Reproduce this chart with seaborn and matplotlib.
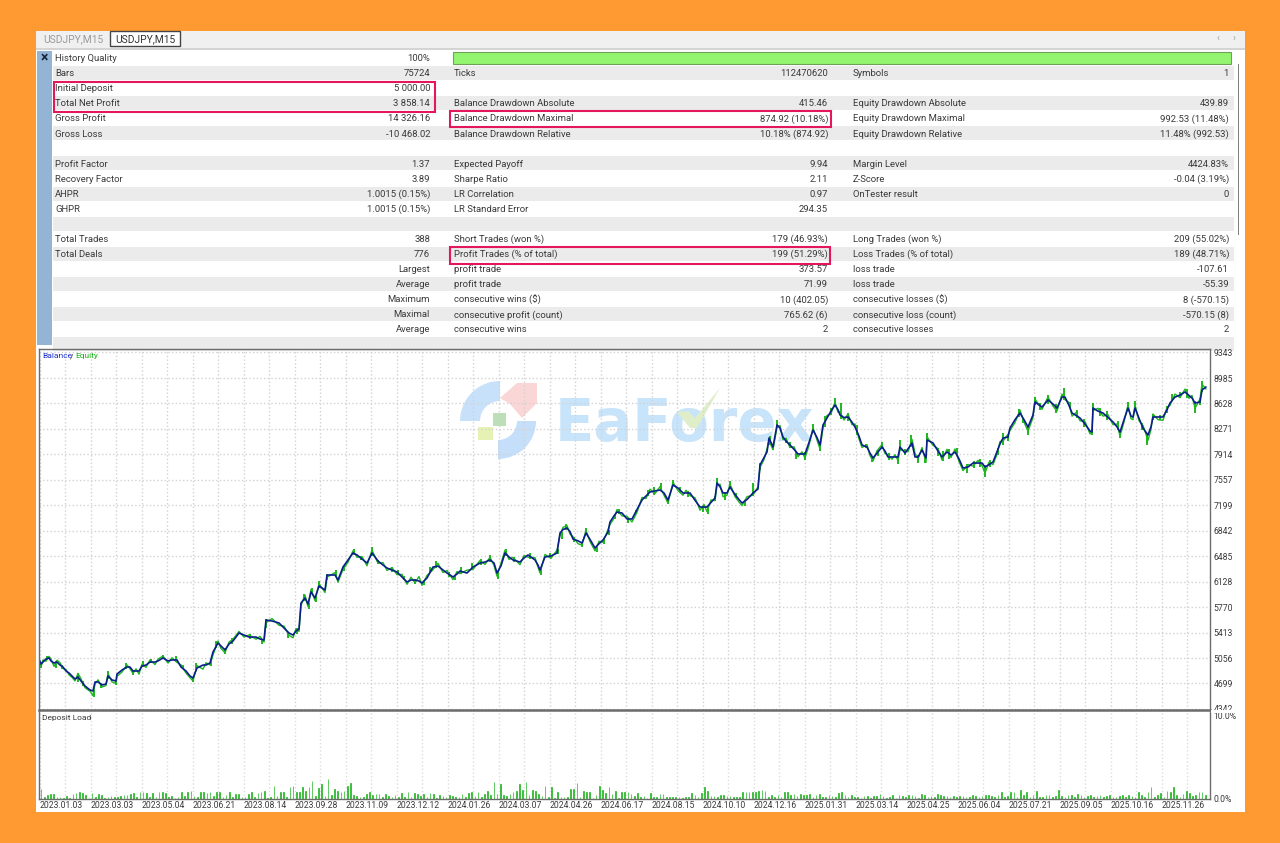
import numpy as np
import pandas as pd
import matplotlib
matplotlib.use("Agg")
import matplotlib.pyplot as plt
from matplotlib.patches import Rectangle, Wedge, Polygon
import seaborn as sns

# report table
col1_labels = ["History Quality", "Bars", "Initial Deposit", "Total Net Profit", "Gross Profit", "Gross Loss", "",
               "Profit Factor", "Recovery Factor", "AHPR", "GHPR", "", "Total Trades", "Total Deals",
               "", "", "", "", ""]
col1_values = ["100%", "75724", "5 000.00", "3 858.14", "14 326.16", "-10 468.02", "",
               "1.37", "3.89", "1.0015 (0.15%)", "1.0015 (0.15%)", "", "388", "776",
               "Largest", "Average", "Maximum", "Maximal", "Average"]
col2_labels = ["", "Ticks", "", "Balance Drawdown Absolute", "Balance Drawdown Maximal", "Balance Drawdown Relative", "",
               "Expected Payoff", "Sharpe Ratio", "LR Correlation", "LR Standard Error", "",
               "Short Trades (won %)", "Profit Trades (% of total)", "profit trade", "profit trade",
               "consecutive wins ($)", "consecutive profit (count)", "consecutive wins"]
col2_values = ["", "112470620", "", "415.46", "874.92 (10.18%)", "10.18% (874.92)", "",
               "9.94", "2.11", "0.97", "294.35", "",
               "179 (46.93%)", "199 (51.29%)", "373.57", "71.99", "10 (402.05)", "765.62 (6)", "2"]
col3_labels = ["", "Symbols", "", "Equity Drawdown Absolute", "Equity Drawdown Maximal", "Equity Drawdown Relative", "",
               "Margin Level", "Z-Score", "OnTester result", "", "",
               "Long Trades (won %)", "Loss Trades (% of total)", "loss trade", "loss trade",
               "consecutive losses ($)", "consecutive loss (count)", "consecutive losses"]
col3_values = ["", "1", "", "439.89", "992.53 (11.48%)", "11.48% (992.53)", "",
               "4424.83%", "-0.04 (3.19%)", "0", "", "",
               "209 (55.02%)", "189 (48.71%)", "-107.61", "-55.39", "8 (-570.15)", "-570.15 (8)", "2"]

# balance curve
curve_step = [
    40, 41, 43, 46, 49, 51, 54, 57, 60, 63, 66, 69, 72, 75, 78, 81, 85, 90, 93, 95,
    98, 102, 106, 108, 112, 116, 117, 122, 127, 130, 133, 136, 139, 142, 146, 150, 155, 158, 163, 168,
    172, 177, 181, 186, 190, 193, 197, 203, 206, 210, 213, 218, 221, 225, 229, 233, 239, 244, 249, 256,
    260, 264, 266, 272, 279, 284, 289, 293, 296, 299, 301, 305, 308, 311, 315, 319, 325, 327, 335, 338,
    343, 348, 353, 357, 362, 367, 372, 378, 383, 387, 392, 397, 402, 407, 411, 415, 419, 422, 427, 433,
    438, 443, 447, 453, 457, 460, 467, 473, 480, 485, 490, 494, 497, 501, 505, 509, 513, 520, 524, 528,
    535, 538, 540, 545, 551, 557, 560, 563, 567, 570, 573, 578, 582, 586, 590, 595, 599, 603, 608, 610,
    614, 617, 622, 627, 632, 637, 642, 646, 650, 655, 660, 664, 668, 673, 678, 683, 686, 690, 695, 700,
    704, 707, 711, 715, 717, 720, 723, 727, 730, 735, 739, 742, 747, 753, 758, 760, 764, 767, 769, 773,
    777, 780, 783, 786, 790, 794, 798, 802, 805, 809, 813, 817, 820, 823, 827, 831, 835, 838, 840, 844,
    848, 852, 855, 859, 862, 867, 870, 873, 877, 882, 885, 888, 892, 895, 898, 900, 905, 908, 912, 915,
    918, 922, 926, 927, 933, 938, 942, 947, 951, 955, 959, 963, 968, 973, 978, 982, 985, 989, 993, 997,
    1000, 1003, 1008, 1010, 1015, 1020, 1024, 1028, 1033, 1035, 1042, 1048, 1053, 1057, 1062, 1065, 1069, 1072, 1076, 1080,
    1085, 1090, 1092, 1093, 1098, 1103, 1108, 1113, 1117, 1120, 1124, 1128, 1131, 1133, 1135, 1139, 1143, 1148, 1151, 1153,
    1158, 1163, 1167, 1170, 1175, 1180, 1185, 1189, 1192, 1195, 1200, 1202, 1206,
]
balance = [
    5015, 4972, 5000, 5043, 5057, 5015, 4986, 5000, 4958, 4930, 4874, 4846, 4804, 4762, 4790, 4734, 4664, 4608, 4594, 4720,
    4720, 4678, 4692, 4804, 4748, 4734, 4832, 4888, 4930, 4930, 4874, 4874, 4874, 4944, 4958, 5000, 5000, 5015, 5057, 5015,
    5029, 5029, 4930, 4874, 4804, 4776, 4916, 4958, 4958, 4986, 5141, 5267, 5225, 5169, 5253, 5295, 5407, 5379, 5351, 5351,
    5323, 5309, 5590, 5576, 5548, 5477, 5407, 5379, 5435, 5463, 5828, 5898, 5814, 5983, 5898, 6067, 6011, 6221, 6221, 6151,
    6333, 6432, 6530, 6502, 6446, 6389, 6530, 6418, 6361, 6319, 6291, 6263, 6193, 6123, 6151, 6151, 6137, 6109, 6179, 6333,
    6347, 6291, 6249, 6193, 6235, 6277, 6249, 6333, 6389, 6403, 6432, 6390, 6249, 6350, 6530, 6474, 6432, 6403, 6460, 6502,
    6432, 6360, 6291, 6474, 6488, 6530, 6810, 6860, 6880, 6830, 6726, 6700, 6670, 6810, 6720, 6600, 6660, 6712, 6824, 6965,
    7050, 7105, 7091, 7007, 7007, 7140, 7273, 7330, 7386, 7400, 7414, 7372, 7273, 7484, 7442, 7372, 7372, 7372, 7270, 7175,
    7175, 7175, 7240, 7301, 7512, 7460, 7372, 7372, 7456, 7350, 7280, 7231, 7280, 7372, 7428, 7764, 7870, 7947, 8143, 8017,
    8326, 8283, 8157, 8100, 8045, 7985, 7919, 7919, 7919, 8080, 8255, 8150, 8045, 8326, 8424, 8520, 8606, 8540, 8466, 8430,
    8438, 8365, 8298, 8170, 8045, 8017, 7930, 7863, 7930, 8017, 7960, 7877, 7877, 7877, 7877, 8017, 7933, 7990, 8073, 7877,
    7877, 7975, 7863, 8115, 8073, 7960, 7877, 7947, 7905, 7947, 7850, 7722, 7736, 7792, 7792, 7792, 7736, 7770, 7806, 7950,
    8060, 8143, 8157, 8283, 8400, 8494, 8400, 8298, 8466, 8648, 8578, 8676, 8620, 8564, 8718, 8718, 8600, 8494, 8460, 8424,
    8340, 8241, 8227, 8564, 8520, 8494, 8430, 8368, 8300, 8227, 8400, 8564, 8450, 8438, 8564, 8420, 8283, 8185, 8300, 8438,
    8438, 8438, 8540, 8634, 8718, 8745, 8789, 8740, 8704, 8634, 8648, 8817, 8859,
]
equity = [
    4960, 4930, 5030, 5010, 5080, 5040, 4940, 5025, 4990, 4910, 4895, 4820, 4785, 4735, 4840, 4765, 4640, 4590, 4530, 4690,
    4750, 4650, 4670, 4840, 4720, 4700, 4800, 4860, 4960, 4905, 4840, 4905, 4830, 4970, 4925, 5030, 4965, 5040, 5085, 4985,
    5060, 4995, 4960, 4845, 4780, 4735, 4950, 4900, 4990, 4960, 5100, 5295, 5190, 5130, 5280, 5320, 5430, 5350, 5380, 5320,
    5360, 5280, 5550, 5610, 5515, 5505, 5375, 5340, 5470, 5430, 5790, 5940, 5775, 6020, 5860, 6100, 5975, 6190, 6255, 6120,
    6300, 6400, 6560, 6470, 6480, 6350, 6570, 6385, 6395, 6285, 6325, 6225, 6230, 6090, 6190, 6110, 6200, 6075, 6215, 6295,
    6385, 6255, 6285, 6155, 6270, 6240, 6290, 6300, 6425, 6370, 6470, 6355, 6205, 6385, 6570, 6440, 6470, 6365, 6495, 6470,
    6465, 6330, 6250, 6510, 6455, 6570, 6775, 6890, 6915, 6795, 6760, 6660, 6640, 6850, 6690, 6560, 6695, 6680, 6860, 6930,
    7015, 7140, 7050, 7045, 6965, 7100, 7310, 7295, 7425, 7365, 7460, 7340, 7230, 7520, 7405, 7340, 7410, 7335, 7305, 7130,
    7210, 7110, 7275, 7265, 7480, 7495, 7320, 7340, 7500, 7320, 7245, 7195, 7320, 7340, 7460, 7730, 7840, 7990, 8100, 7980,
    8290, 8320, 8120, 8140, 8010, 8020, 7880, 7950, 7860, 8040, 8290, 8115, 7990, 8285, 8460, 8485, 8650, 8505, 8510, 8395,
    8480, 8330, 8340, 8130, 8010, 8050, 7895, 7820, 7965, 8050, 7925, 7910, 7845, 7910, 7825, 7980, 7965, 7950, 8125, 7930,
    7845, 8010, 7800, 8160, 8040, 7995, 7835, 7985, 7870, 7990, 7815, 7685, 7770, 7750, 7830, 7755, 7650, 7805, 7770, 7915,
    8095, 8100, 8195, 8250, 8360, 8535, 8365, 8240, 8430, 8690, 8545, 8720, 8590, 8520, 8760, 8680, 8640, 8450, 8500, 8385,
    8375, 8200, 8260, 8530, 8560, 8450, 8470, 8330, 8340, 8170, 8370, 8610, 8415, 8400, 8610, 8385, 8320, 8110, 8265, 8480,
    8400, 8390, 8575, 8600, 8760, 8710, 8830, 8700, 8740, 8560, 8690, 8900, 8830,
]

# green equity spikes that stick out of the balance line
spike_step = [
    41, 47, 56, 62, 78, 83, 94, 101, 108, 116, 126, 133, 143, 151, 163, 176, 183, 193, 196, 211,
    216, 225, 232, 250, 262, 266, 288, 297, 304, 309, 312, 316, 319, 327, 336, 344, 354, 361, 372, 378,
    392, 398, 404, 415, 424, 430, 436, 449, 455, 461, 472, 481, 490, 498, 506, 514, 530, 541, 550, 558,
    562, 566, 574, 582, 586, 597, 604, 609, 615, 619, 628, 636, 648, 654, 661, 668, 673, 680, 688, 703,
    708, 715, 717, 725, 730, 736, 745, 753, 760, 770, 773, 777, 786, 790, 796, 805, 813, 820, 825, 831,
    835, 841, 848, 857, 866, 872, 878, 882, 889, 898, 900, 905, 911, 918, 925, 927, 938, 943, 949, 957,
    967, 974, 980, 985, 990, 998, 1003, 1008, 1019, 1023, 1028, 1035, 1040, 1048, 1056, 1064, 1070, 1077, 1084, 1092,
    1093, 1100, 1107, 1118, 1120, 1128, 1135, 1142, 1147, 1153, 1160, 1167, 1172, 1180, 1187, 1195, 1200, 1202,
]
spike_low = [
    4910, 5030, 4920, 4900, 4720, 4660, 4510, 4640, 4760, 4680, 4900, 4820, 4930, 4980, 5040, 5000, 4900, 4720, 4880, 4950,
    5190, 5110, 5260, 5320, 5260, 5480, 5340, 5400, 5860, 5750, 5950, 5840, 6040, 6150, 6200, 6280, 6500, 6430, 6490, 6370,
    6260, 6220, 6150, 6100, 6080, 6250, 6320, 6200, 6150, 6240, 6300, 6360, 6400, 6170, 6490, 6400, 6440, 6220, 6460, 6510,
    6720, 6850, 6690, 6620, 6790, 6540, 6660, 6780, 7000, 7080, 6950, 7070, 7330, 7350, 7400, 7220, 7470, 7370, 7310, 7110,
    7080, 7260, 7480, 7280, 7430, 7300, 7190, 7330, 7700, 8040, 7970, 8290, 8070, 8000, 7850, 7830, 8230, 7960, 8300, 8460,
    8580, 8410, 8380, 8190, 8000, 7800, 7890, 7990, 7830, 7780, 7970, 7900, 8020, 7790, 7790, 8090, 7890, 7820, 7850, 7900,
    7650, 7720, 7740, 7590, 7730, 7900, 8050, 8100, 8440, 8350, 8180, 8600, 8530, 8620, 8500, 8680, 8560, 8430, 8300, 8180,
    8530, 8450, 8400, 8260, 8150, 8530, 8530, 8250, 8050, 8400, 8390, 8500, 8660, 8700, 8700, 8500, 8600, 8790,
]
spike_high = [
    4985, 5085, 5010, 4960, 4850, 4730, 4610, 4710, 4870, 4750, 4980, 4890, 5010, 5040, 5100, 5080, 4960, 4790, 4990, 5040,
    5290, 5190, 5340, 5400, 5330, 5600, 5420, 5480, 5960, 5830, 6040, 5920, 6130, 6240, 6290, 6350, 6580, 6490, 6610, 6430,
    6330, 6290, 6210, 6170, 6140, 6330, 6420, 6270, 6210, 6330, 6390, 6450, 6500, 6260, 6590, 6470, 6530, 6300, 6530, 6590,
    6820, 6930, 6750, 6690, 6880, 6610, 6730, 6850, 7080, 7150, 7030, 7140, 7420, 7450, 7510, 7290, 7560, 7460, 7400, 7190,
    7190, 7330, 7580, 7380, 7540, 7370, 7260, 7510, 7790, 8170, 8040, 8390, 8150, 8090, 7960, 7940, 8340, 8060, 8450, 8570,
    8700, 8640, 8500, 8320, 8060, 7880, 7980, 8090, 7930, 7890, 8110, 7990, 8190, 7900, 7900, 8210, 8000, 7960, 7990, 8000,
    7780, 7820, 7850, 7760, 7830, 8000, 8220, 8190, 8550, 8420, 8310, 8720, 8640, 8740, 8620, 8840, 8650, 8530, 8410, 8270,
    8630, 8560, 8520, 8380, 8250, 8650, 8660, 8350, 8220, 8480, 8470, 8590, 8760, 8790, 8830, 8660, 8700, 8950,
]

# deposit load in %, one row per date label
deposit_load = [
    1.2, .3, .5, .6, .6, .3, .3, .1, .4, .1, .6, .7, .8, .7, .5, .1,
    .7, .2, .6, .5, .1, .3, .4, .3, .3, .4, .5, .5, .6, .7, .3, .8,
    .9, .7, .3, .7, .2, .8, .9, .7, .3, .4, .1, .3, .9, .4, .8, 1.0,
    .4, .2, .8, .8, .7, .9, .4, .8, .9, .3, .5, .9, .3, .6, .6, .2,
    .3, .6, .9, .3, .7, .9, 1.0, .1, .3, 1.6, .4, .8, .9, .3, 1.5, 1.6,
    .9, .8, 1.4, 1.0, 1.4, 2.2, .4, 1.3, 1.8, .4, 2.4, .5, 1.2, 1.0, .8, 1.0,
    1.6, 1.9, .5, .4, .2, .2, .6, .8, .5, .6, .6, .3, .6, .4, .3, .5,
    .3, .7, .3, .8, .2, .7, .6, .4, .6, .3, .7, .6, .1, .5, .4, .3,
    .5, .4, .3, .3, .6, .3, .7, .9, .4, .9, .3, .6, 1.0, .5, 2.0, .6,
    1.8, .5, .4, .6, .9, 1.0, 1.8, 1.1, 2.1, .5, 1.1, 1.0, .6, .4, 1.6, .3,
    1.5, .1, .9, .3, .2, .3, 1.2, 1.2, 1.9, .3, 1.0, .9, .9, .1, .5, 1.6,
    1.1, .7, 1.5, .6, 1.0, .1, .9, .9, .9, .6, .4, .7, .3, .4, .1, .7,
    .2, .2, .6, .6, .2, .3, .3, .3, .3, .1, .3, .2, .7, .5, .2, .7,
    1.5, 1.0, .4, .4, .2, .5, .5, .4, .4, .3, .3, .2, .8, .8, .8, .8,
    .9, 1.0, 1.1, 1.0, .3, .5, .3, .5, .3, .9, .8, .5, .6, .4, .6, .5,
    .5, .6, .3, .5, .6, .3, .2, .5, .4, .3, .7, .8, .5, .3, .5, .2,
    .2, .1, .4, .4, .1, .4, .4, .6, .4, .1, .3, .5, .1, .5, .4, .2,
    .5, .5, .4, .1, .6, .5, .3, .4, .3, .6, .5, .4, .4, .3, .4, .2,
    .4, .4, .3, .2, .5, .4, .2, .4, .5, .5, .4, .2, .5, .8, .2, .4,
    .9, .8, .3, 1.1, .5, .9, .3, .5, 1.0, .3, .2, .5, .5, .2, .4, 1.1,
    .4, .3, .5, .5, .3, .6, .5, .3, .4, .5, .2, .4, .5, .3, .4, .5,
    .3, .2, .4, .5, .3, .5, .4, .2, .8, .5, .2, .8, 1.4, .3, .5, .7,
    .3, 1.0, .9, 1.5, .5, .3, .6, 1.0, .7, .4, .5, .9, .9, .5,
]

date_labels = ["2023.01.03", "2023.03.03", "2023.05.04", "2023.06.21", "2023.08.14", "2023.09.28",
               "2023.11.09", "2023.12.12", "2024.01.26", "2024.03.07", "2024.04.26", "2024.06.17",
               "2024.08.15", "2024.10.10", "2024.12.16", "2025.01.31", "2025.03.14", "2025.04.25",
               "2025.06.04", "2025.07.21", "2025.09.05", "2025.10.16", "2025.11.26"]
balance_ticks = [9343, 8985, 8628, 8271, 7914, 7557, 7199, 6842, 6485, 6128, 5770, 5413, 5056, 4699, 4342]

W, H = 1280, 843
ORANGE = "#ff9a33"
TEXT = "#3a3a3a"
FRAME = "#6b6b6b"
BLUE = "#0b1f8a"
GREEN = "#1fb51f"
RED = "#e2185a"

sns.set_theme(style="white")
plt.rcParams["font.family"] = ["Roboto", "DejaVu Sans"]

fig = plt.figure(figsize=(W / 100, H / 100), dpi=100, facecolor=ORANGE)


def px_axes(left, top, right, bottom, zorder):
    return fig.add_axes([left / W, 1 - bottom / H, (right - left) / W, (bottom - top) / H], zorder=zorder)


# ----------------------------------------------------
# REPORT PANEL (drawn in pixel coordinates)
# ----------------------------------------------------
bg = px_axes(0, 0, W, H, 0)
bg.set_xlim(0, W)
bg.set_ylim(H, 0)
bg.axis("off")

bg.add_patch(Rectangle((36, 31), 1209, 781, fc="white", ec="none"))
bg.add_patch(Rectangle((36, 31), 1209, 19, fc="#f0f0f0", ec="none"))
bg.add_patch(Rectangle((36, 48), 1209, 2, fc="#d4d4d4", ec="none"))
bg.add_patch(Rectangle((110, 31), 70, 15, fc="white", ec="#444444", lw=1))
bg.text(73, 39, "USDJPY,M15", fontsize=7.4, color="#9a9a9a", ha="center", va="center")
bg.text(145, 39, "USDJPY,M15", fontsize=7.4, color="#333333", ha="center", va="center")
bg.text(1218, 38.5, "‹", fontsize=7, color="#a0a0a0", ha="center", va="center")
bg.text(1234, 38.5, "›", fontsize=7, color="#a0a0a0", ha="center", va="center")

bg.add_patch(Rectangle((37, 51), 15, 294, fc="#93b4d4", ec="none"))
bg.text(44, 58, "×", fontsize=10, fontweight="bold", color="#16243a", ha="center", va="center")
bg.add_patch(Rectangle((1237.5, 64), 1.5, 171, fc="#7f7f7f", ec="none"))

row_h = 15.07
for i in range(20):
    if i % 2 == 1:
        bg.add_patch(Rectangle((53, 51 + row_h * i), 1181, row_h - 1.2, fc="#ebebeb", ec="none"))

bg.add_patch(Rectangle((453, 52), 778, 12, fc="#93f56f", ec="#6fa05a", lw=0.8))

columns = [(55, 430, col1_labels, col1_values), (454, 828, col2_labels, col2_values),
           (853, 1229, col3_labels, col3_values)]
for x_label, x_value, labels, values in columns:
    for i, (label, value) in enumerate(zip(labels, values)):
        y = 58.7 + row_h * i
        bg.text(x_label, y, label, fontsize=6.8, color=TEXT, ha="left", va="center")
        bg.text(x_value, y, value, fontsize=6.8, color=TEXT, ha="right", va="center")

for x, y, w, h in [(53.5, 82, 381.5, 30), (449.5, 110.5, 381, 16.5), (449.5, 247, 380.5, 17)]:
    bg.add_patch(Rectangle((x, y), w, h, fc="none", ec=RED, lw=1.5, zorder=5))

# watermark, sits under the chart
bg.add_patch(Wedge((500, 421), 40, 180, 270, width=20, fc="#c8e1fa", ec="none"))
bg.add_patch(Wedge((498, 421), 38, 0, 90, width=19, fc="#c5dffa", ec="none"))
bg.add_patch(Polygon([(500, 398), (517, 383), (537, 383), (537, 403), (522, 418), (510, 404)], fc="#fbd6d6", ec="none"))
bg.add_patch(Rectangle((493, 413), 13, 13, fc="#bcdfb8", ec="none"))
bg.add_patch(Rectangle((478, 427), 15, 13, fc="#e6f2b4", ec="none"))
bg.text(555, 424, "EaForex", fontsize=41.5, fontweight="bold", family="DejaVu Sans", color="#c8e4fb",
        ha="left", va="center")
bg.add_patch(Polygon([(677, 412), (688, 411), (695, 418), (720, 388), (697, 428), (690, 428)], fc="#dfeec8", ec="none", zorder=3))

# ----------------------------------------------------
# BALANCE / EQUITY
# ----------------------------------------------------
df_curve = pd.DataFrame({"step": curve_step, "Balance": balance, "Equity": equity})

ax_curve = px_axes(39, 349, 1210, 710, 2)
ax_curve.patch.set_alpha(0)
sns.lineplot(data=df_curve, x="step", y="Equity", ax=ax_curve, color=GREEN, lw=1.0, estimator=None, sort=False)
ax_curve.vlines(spike_step, spike_low, spike_high, color=GREEN, lw=1.4)
sns.lineplot(data=df_curve, x="step", y="Balance", ax=ax_curve, color=BLUE, lw=1.2, estimator=None, sort=False)
ax_curve.set_xlim(39, 1210)
ax_curve.set_ylim(4327, 9392)
ax_curve.set_xlabel("")
ax_curve.set_ylabel("")

grid_x = 39.5 + 25.5 * np.arange(46)
ax_curve.set_xticks(grid_x)
ax_curve.set_xticklabels([])
ax_curve.set_yticks(balance_ticks)
ax_curve.yaxis.tick_right()
ax_curve.tick_params(axis="y", labelsize=6.2, labelcolor=TEXT, length=0, pad=2.5)
ax_curve.tick_params(axis="x", length=0)
ax_curve.grid(True, color="#d2d2d2", linestyle=":", linewidth=1)
ax_curve.set_axisbelow(True)
for spine in ax_curve.spines.values():
    spine.set_color(FRAME)
    spine.set_linewidth(1.0)
ax_curve.spines["bottom"].set_linewidth(1.8)

ax_curve.text(42, 9290, "Balance", fontsize=6, color="#1b2fd0", ha="left", va="center")
ax_curve.text(70, 9290, "/", fontsize=6, color=TEXT, ha="left", va="center")
ax_curve.text(75, 9290, "Equity", fontsize=6, color="#18b018", ha="left", va="center")

# ----------------------------------------------------
# DEPOSIT LOAD
# ----------------------------------------------------
load_pos = 41 + 3.19 * np.arange(len(deposit_load))

ax_load = px_axes(39, 711, 1210, 799, 1)
ax_load.patch.set_alpha(0)
sns.barplot(x=load_pos, y=deposit_load, ax=ax_load, native_scale=True, color=GREEN, width=0.2, saturation=1,
            edgecolor=GREEN, linewidth=0.5)
ax_load.set_xlim(39, 1210)
ax_load.set_ylim(0, 10.6)

tick_labels = [""] * len(grid_x)
tick_labels[::2] = date_labels
ax_load.set_xticks(grid_x)
ax_load.set_xticklabels(tick_labels, ha="left", fontsize=6.2, color=TEXT)
ax_load.set_yticks([0, 10])
ax_load.set_yticklabels(["0.0%", "10.0%"], fontsize=6.2, color=TEXT)
ax_load.yaxis.tick_right()
ax_load.tick_params(axis="y", length=0, pad=2.5)
ax_load.tick_params(axis="x", length=0, pad=1.5)
ax_load.grid(True, axis="x", color="#dcdcdc", linestyle=":", linewidth=1)
ax_load.set_axisbelow(True)
ax_load.spines["top"].set_visible(False)
for name in ["left", "right", "bottom"]:
    ax_load.spines[name].set_color(FRAME)
    ax_load.spines[name].set_linewidth(1.0)
ax_load.text(42, 9.8, "Deposit Load", fontsize=6, color=TEXT, ha="left", va="center")

# the lowest balance label is cut off by the lower panel
fig.add_artist(Rectangle((1211 / W, 1 - 713 / H), 34 / W, 3 / H, transform=fig.transFigure, fc="white", ec="none", zorder=10))

fig.savefig("out.png", dpi=100, facecolor=ORANGE)
